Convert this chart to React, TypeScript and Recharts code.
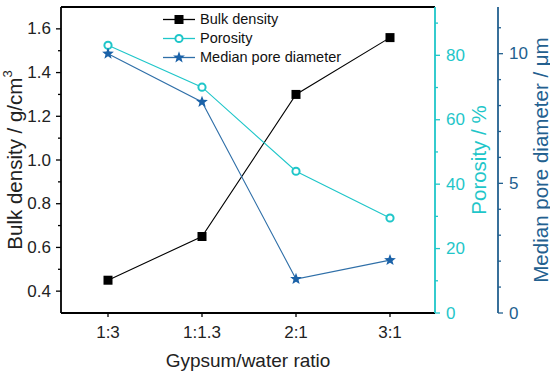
import React from 'react';
import { LineChart, Line, XAxis, YAxis, Legend, ReferenceLine } from 'recharts';

// values
const ratios = ['1:3', '1:1.3', '2:1', '3:1'];
const bulkDensity = [0.45, 0.65, 1.3, 1.56];
const porosity = [83.1, 70.1, 44.0, 29.5];
const medianPore = [10.0, 8.14, 1.31, 2.04];

const densityTicks = [0.4, 0.5, 0.6, 0.7, 0.8, 0.9, 1.0, 1.1, 1.2, 1.3, 1.4, 1.5, 1.6];
const densityMajor = [0.4, 0.6, 0.8, 1.0, 1.2, 1.4, 1.6];
const porosityTicks = [0, 10, 20, 30, 40, 50, 60, 70, 80, 90];
const porosityMajor = [0, 20, 40, 60, 80];
const poreTicks = [0, 1, 2, 3, 4, 5, 6, 7, 8, 9, 10, 11];
const poreMajor = [0, 5, 10];

const data = ratios.map((r, i) => ({
  ratio: r,
  bulk: bulkDensity[i],
  porosity: porosity[i],
  pore: medianPore[i],
}));

const FONT = 'Arial, "Liberation Sans", sans-serif';
const BLACK = '#000000';
const CYAN = '#1fc6c9';
const BLUE = '#1b62a8';
const BLUE_LINE = '#2f6fa8';
const BLUE_AXIS = '#23608f';

// right axes get stacked by id, so the ids keep porosity next to the plot
const POR_AXIS = 'r1Porosity';
const PORE_AXIS = 'r2Pore';

const isMajor = (list: number[], v: number) => list.some((m) => Math.abs(m - v) < 1e-6);

const starPoints = (cx: number, cy: number, R: number, r: number) => {
  const pts: string[] = [];
  for (let k = 0; k < 10; k++) {
    const rad = k % 2 === 0 ? R : r;
    const a = -Math.PI / 2 + (k * Math.PI) / 5;
    pts.push(`${cx + rad * Math.cos(a)},${cy + rad * Math.sin(a)}`);
  }
  return pts.join(' ');
};

const SquareDot = (p: any) => (
  <rect key={`sq-${p.index}`} x={p.cx - 4.5} y={p.cy - 4.5} width={9} height={9} fill={BLACK} />
);
const CircleDot = (p: any) => (
  <circle key={`ci-${p.index}`} cx={p.cx} cy={p.cy} r={3.6} fill="#fff" stroke={CYAN} strokeWidth={2} />
);
const StarDot = (p: any) => (
  <polygon key={`st-${p.index}`} points={starPoints(p.cx, p.cy, 6.2, 2.6)} fill={BLUE} />
);

const LeftTick = (p: any) => {
  const v = p.payload.value;
  const major = isMajor(densityMajor, v);
  return (
    <g>
      <line x1={p.x - (major ? 5 : 3)} x2={p.x} y1={p.y} y2={p.y} stroke={BLACK} strokeWidth={1.3} />
      {major && (
        <text x={p.x - 10} y={p.y} textAnchor="end" dominantBaseline="central" fontSize={17} fontFamily={FONT} fill="#222">
          {v.toFixed(1)}
        </text>
      )}
    </g>
  );
};

const makeRightTick = (majors: number[], color: string) => (p: any) => {
  const v = p.payload.value;
  const major = isMajor(majors, v);
  return (
    <g>
      <line x1={p.x} x2={p.x + (major ? 5 : 3)} y1={p.y} y2={p.y} stroke={color} strokeWidth={1.3} />
      {major && (
        <text x={p.x + 11} y={p.y} textAnchor="start" dominantBaseline="central" fontSize={17} fontFamily={FONT} fill={color}>
          {v}
        </text>
      )}
    </g>
  );
};

const BottomTick = (p: any) => (
  <g>
    <line x1={p.x} x2={p.x} y1={p.y} y2={p.y + 4} stroke={BLACK} strokeWidth={1.3} />
    <text x={p.x} y={p.y + 19} textAnchor="middle" dominantBaseline="central" fontSize={17} fontFamily={FONT} fill="#222">
      {p.payload.value}
    </text>
  </g>
);

const verticalTitle = (text: React.ReactNode, dx: number, color: string, size: number) => (p: any) => {
  const vb = p.viewBox || { x: 0, y: 0, width: 0, height: 0 };
  const cx = vb.x + dx;
  const cy = vb.y + vb.height / 2;
  return (
    <text x={cx} y={cy} transform={`rotate(-90 ${cx} ${cy})`} textAnchor="middle" dominantBaseline="central" fontSize={size} fontFamily={FONT} fill={color}>
      {text}
    </text>
  );
};

const xTitle = (p: any) => {
  const vb = p.viewBox || { x: 0, y: 0, width: 0, height: 0 };
  return (
    <text x={vb.x + vb.width / 2} y={vb.y + 47} textAnchor="middle" dominantBaseline="central" fontSize={19} fontFamily={FONT} fill="#222">
      Gypsum/water ratio
    </text>
  );
};

const legendRows = [
  { name: 'Bulk density', color: BLACK, kind: 'square' },
  { name: 'Porosity', color: CYAN, kind: 'circle' },
  { name: 'Median pore diameter', color: BLUE_LINE, kind: 'star' },
];

const LegendBox = () => (
  <div style={{ fontFamily: FONT, fontSize: 14.5, color: '#111', lineHeight: '19px' }}>
    {legendRows.map((row) => (
      <div key={row.name} style={{ display: 'flex', alignItems: 'center', height: 19 }}>
        <svg width={37} height={19} style={{ display: 'block' }}>
          <line x1={0} x2={32} y1={9.5} y2={9.5} stroke={row.color} strokeWidth={1.3} />
          {row.kind === 'square' && <rect x={11.5} y={5} width={9} height={9} fill={BLACK} />}
          {row.kind === 'circle' && <circle cx={16} cy={9.5} r={3.6} fill="#fff" stroke={CYAN} strokeWidth={2} />}
          {row.kind === 'star' && <polygon points={starPoints(16, 9.5, 6.2, 2.6)} fill={BLUE} />}
        </svg>
        <span>{row.name}</span>
      </div>
    ))}
  </div>
);

export default function App() {
  return (
    <div style={{ position: 'absolute', left: 0, top: 0, background: '#fff' }}>
      <LineChart width={550} height={375} data={data} margin={{ top: 7, right: 0, bottom: 0, left: 0 }}>
        <XAxis
          dataKey="ratio"
          height={62}
          padding={{ left: 47, right: 45 }}
          axisLine={{ stroke: BLACK, strokeWidth: 1.8 }}
          tickLine={false}
          tickSize={0}
          tickMargin={0}
          interval={0}
          tick={BottomTick}
          label={xTitle}
        />
        <YAxis
          yAxisId="left"
          orientation="left"
          width={61}
          domain={[0.3, 1.7]}
          ticks={densityTicks}
          interval={0}
          axisLine={{ stroke: BLACK, strokeWidth: 1.8 }}
          tickLine={false}
          tickSize={0}
          tickMargin={0}
          tick={LeftTick}
          label={verticalTitle(<>Bulk density / g/cm<tspan dy={-7} fontSize={13}>3</tspan></>, 14, '#222', 20.5)}
        />
        <YAxis
          yAxisId={POR_AXIS}
          orientation="right"
          width={63}
          domain={[0, 95]}
          ticks={porosityTicks}
          interval={0}
          axisLine={{ stroke: CYAN, strokeWidth: 1.8 }}
          tickLine={false}
          tickSize={0}
          tickMargin={0}
          tick={makeRightTick(porosityMajor, CYAN)}
          label={verticalTitle('Porosity / %', 43, CYAN, 20.5)}
        />
        <YAxis
          yAxisId={PORE_AXIS}
          orientation="right"
          width={52}
          domain={[0, 11.8]}
          ticks={poreTicks}
          interval={0}
          axisLine={{ stroke: BLUE_AXIS, strokeWidth: 1.8 }}
          tickLine={false}
          tickSize={0}
          tickMargin={0}
          tick={makeRightTick(poreMajor, BLUE_AXIS)}
          label={verticalTitle('Median pore diameter / μm', 42, BLUE_AXIS, 20.5)}
        />
        <ReferenceLine yAxisId="left" y={1.7} stroke={BLACK} strokeWidth={1.8} />
        <Line
          yAxisId="left"
          dataKey="bulk"
          stroke={BLACK}
          strokeWidth={1.1}
          dot={SquareDot}
          activeDot={false}
          isAnimationActive={false}
        />
        <Line
          yAxisId={POR_AXIS}
          dataKey="porosity"
          stroke={CYAN}
          strokeWidth={1.1}
          dot={CircleDot}
          activeDot={false}
          isAnimationActive={false}
        />
        <Line
          yAxisId={PORE_AXIS}
          dataKey="pore"
          stroke={BLUE_LINE}
          strokeWidth={1.1}
          dot={StarDot}
          activeDot={false}
          isAnimationActive={false}
        />
        <Legend
          layout="vertical"
          align="center"
          verticalAlign="middle"
          content={LegendBox}
          wrapperStyle={{ left: 163, top: 10, width: 200 }}
        />
      </LineChart>
    </div>
  );
}
